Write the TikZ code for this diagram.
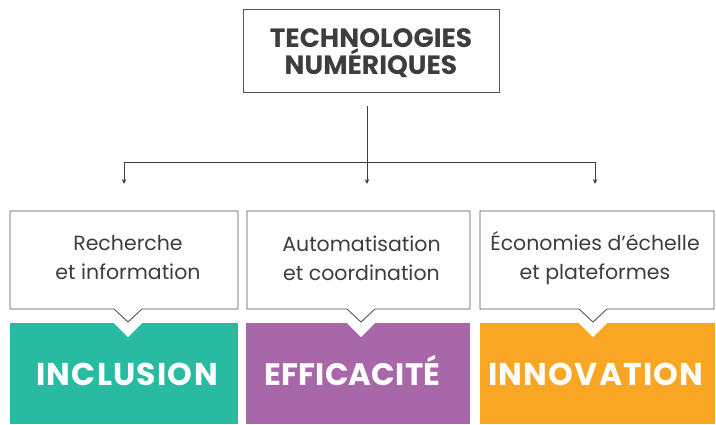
\documentclass[tikz,border=0pt]{standalone}
\usepackage{fontspec}
\setmainfont{Poppins}
\usetikzlibrary{arrows.meta}
\definecolor{inkgray}{HTML}{3D3D3D}
\definecolor{linegray}{HTML}{555555}
\definecolor{cteal}{HTML}{29BBA2}
\definecolor{cpurple}{HTML}{A867A9}
\definecolor{corange}{HTML}{F8A623}
\tikzset{
  conn/.style={draw=inkgray, line width=0.9pt, -{Stealth[length=5pt,width=4.5pt]}},
  outline/.style={draw=linegray, line width=0.9pt, fill=white},
  calltext/.style={text=inkgray, align=center, font=\fontsize{20.5}{29}\selectfont},
  bigtext/.style={text=white, anchor=base, font=\fontsize{31.5}{34}\bfseries\addfontfeatures{LetterSpace=4}},
  bigtextnarrow/.style={text=white, anchor=base, font=\fontsize{31}{34}\bfseries\addfontfeatures{LetterSpace=0.5}},
  titletext/.style={text=inkgray, align=center, font=\fontsize{26.5}{27}\bfseries\selectfont},
}
\begin{document}
\begin{tikzpicture}[x=1pt,y=-1pt]
\useasboundingbox (0,0) rectangle (716,424);
% title
\draw[outline] (243,9) rectangle (499,92);
\node[titletext] (title) at (371,53) {TECHNOLOGIES\\NUMÉRIQUES};
\coordinate (tb) at (367,106);
\coordinate (hl) at (124,162);
\coordinate (hm) at (367,162);
\coordinate (hr) at (595,162);
\coordinate (a1) at (124,184);
\coordinate (a2) at (367,184);
\coordinate (a3) at (595,184);
\draw[draw=inkgray, line width=0.9pt] (hl) -- (hr);
\draw[conn] (tb) -- (a2);
\draw[conn] (hl) -- (a1);
\draw[conn] (hr) -- (a3);
% colored boxes
\fill[cteal] (10,323) rectangle (238,424);
\fill[cpurple] (246,323) rectangle (470,424);
\fill[corange] (480,323) rectangle (715,424);
\fill[white] (113,322) -- (143,322) -- (128,337) -- cycle;
\fill[white] (346,322) -- (376,322) -- (361,337) -- cycle;
\fill[white] (578,322) -- (608,322) -- (593,337) -- cycle;
% callouts
\draw[outline] (10,211) -- (238,211) -- (238,309) -- (142,309) -- (128,322) -- (114,309) -- (10,309) -- cycle;
\draw[outline] (247,211) -- (470,211) -- (470,309) -- (375,309) -- (361,322) -- (347,309) -- (247,309) -- cycle;
\draw[outline] (480,211) -- (714,211) -- (714,309) -- (607,309) -- (593,322) -- (579,309) -- (480,309) -- cycle;
\node[calltext] (c1) at (128,258) {Recherche\\et information};
\node[calltext] (c2) at (361.5,258) {Automatisation\\et coordination};
\node[calltext] (c3) at (595,258) {Économies d’échelle\\et plateformes};
\node[bigtext] (b1) at (127,385) {INCLUSION};
\node[bigtextnarrow] (b2) at (352.5,385) {EFFICACITÉ};
\node[bigtext] (b3) at (596,385) {INNOVATION};
\end{tikzpicture}
\end{document}
